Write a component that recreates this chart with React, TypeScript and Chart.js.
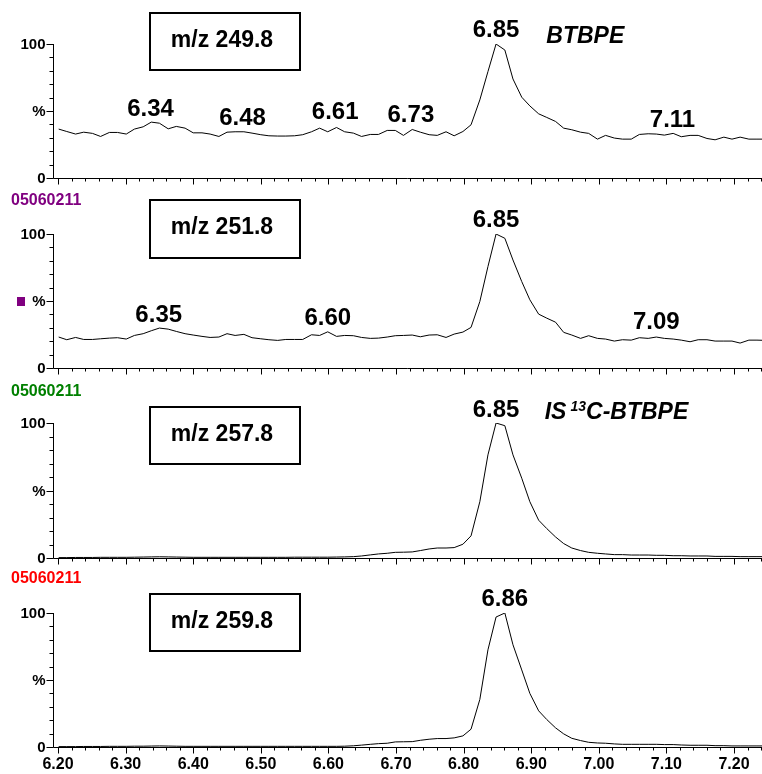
import React, { useEffect, useRef } from "react";
import { Chart, registerables } from "chart.js";

Chart.register(...registerables);

// ---------------- data ----------------
const times = [
  6.201, 6.213, 6.226, 6.238, 6.251, 6.263, 6.276, 6.288, 6.301, 6.313,
  6.326, 6.338, 6.350, 6.363, 6.375, 6.388, 6.400, 6.413, 6.425, 6.438,
  6.450, 6.462, 6.475, 6.487, 6.500, 6.512, 6.525, 6.537, 6.550, 6.562,
  6.575, 6.587, 6.599, 6.612, 6.624, 6.637, 6.649, 6.662, 6.674, 6.687,
  6.699, 6.711, 6.724, 6.736, 6.749, 6.761, 6.774, 6.786, 6.799, 6.811,
  6.824, 6.836, 6.848, 6.861, 6.873, 6.886, 6.898, 6.911, 6.923, 6.936,
  6.948, 6.960, 6.973, 6.985, 6.998, 7.010, 7.023, 7.035, 7.048, 7.060,
  7.073, 7.085, 7.097, 7.110, 7.122, 7.135, 7.147, 7.160, 7.172, 7.185,
  7.197, 7.209, 7.222, 7.234, 7.247,
];

const mz2498 = [
  36.5, 34.7, 32.8, 34.2, 33.3, 31.0, 34.0, 34.0, 32.8, 36.5,
  38.2, 41.7, 40.9, 36.7, 38.5, 37.2, 33.7, 33.7, 32.8, 31.0,
  34.2, 34.5, 34.5, 33.5, 32.3, 31.5, 31.3, 31.3, 31.5, 32.3,
  34.5, 37.2, 34.5, 37.7, 34.5, 33.5, 31.0, 32.5, 32.5, 35.5,
  35.5, 31.8, 36.2, 34.2, 32.3, 31.8, 34.5, 31.5, 34.7, 39.7,
  58.3, 79.4, 100, 95.5, 73.9, 60.3, 53.8, 47.9, 45.2, 42.2,
  37.2, 36.0, 34.2, 33.3, 29.0, 31.8, 29.8, 29.0, 29.0, 32.5,
  33.0, 32.8, 32.0, 33.3, 30.8, 31.8, 31.8, 29.5, 28.5, 30.5,
  29.0, 30.5, 29.0, 29.0, 29.0,
];

const mz2518 = [
  23.1, 21.1, 22.8, 21.3, 21.3, 21.8, 22.3, 22.6, 21.6, 24.3,
  25.6, 27.8, 29.8, 29.0, 27.3, 25.6, 24.6, 23.6, 22.8, 23.1,
  25.6, 24.3, 25.1, 22.6, 21.8, 21.1, 20.6, 21.3, 21.3, 21.3,
  24.8, 24.3, 27.0, 23.6, 24.3, 24.1, 22.8, 22.1, 22.3, 23.1,
  24.1, 24.3, 24.6, 23.3, 24.6, 24.8, 22.8, 25.3, 26.8, 30.3,
  49.6, 75.7, 100, 96.8, 80.6, 64.5, 50.9, 40.2, 37.2, 34.2,
  26.6, 24.6, 22.1, 24.1, 22.1, 21.6, 20.1, 21.1, 20.8, 22.6,
  22.1, 23.1, 22.1, 21.6, 20.8, 19.6, 21.1, 21.1, 20.1, 20.1,
  20.1, 18.6, 20.8, 20.8, 20.6,
];

const mz2578 = [
  0.3, 0.3, 0.4, 0.4, 0.4, 0.5, 0.5, 0.5, 0.5, 0.6,
  0.7, 0.8, 0.9, 0.8, 0.7, 0.6, 0.5, 0.5, 0.5, 0.5,
  0.5, 0.5, 0.5, 0.5, 0.5, 0.5, 0.5, 0.5, 0.6, 0.6,
  0.6, 0.6, 0.6, 0.7, 0.8, 1.0, 1.5, 2.3, 3.0, 3.5,
  4.2, 4.3, 4.5, 5.5, 6.7, 7.4, 7.4, 7.7, 10.2, 16.4,
  41.7, 76.4, 100, 98.0, 76.4, 59.1, 41.7, 28.0, 21.8, 15.6,
  10.7, 7.4, 5.5, 4.2, 3.5, 3.0, 2.5, 2.5, 2.2, 2.2,
  2.2, 2.0, 2.0, 1.7, 1.7, 1.5, 1.5, 1.5, 1.2, 1.2,
  1.2, 1.0, 1.0, 1.0, 1.0,
];

const mz2598 = [
  0.3, 0.3, 0.3, 0.4, 0.4, 0.4, 0.5, 0.5, 0.5, 0.6,
  0.6, 0.7, 0.8, 0.7, 0.6, 0.5, 0.5, 0.5, 0.5, 0.5,
  0.5, 0.5, 0.5, 0.5, 0.5, 0.5, 0.5, 0.5, 0.5, 0.5,
  0.5, 0.5, 0.5, 0.5, 0.6, 0.9, 1.4, 2.0, 2.5, 2.8,
  3.8, 3.9, 4.0, 5.0, 5.8, 6.3, 6.3, 6.8, 8.3, 13.3,
  35.5, 72.5, 97.0, 100, 76.3, 57.5, 40.0, 27.0, 20.5, 14.3,
  9.8, 6.5, 4.8, 3.5, 3.0, 2.8, 2.3, 2.0, 2.0, 2.0,
  2.0, 2.0, 1.8, 1.8, 1.5, 1.3, 1.3, 1.3, 1.0, 1.0,
  0.8, 0.8, 0.8, 0.8, 0.8,
];

const xTickLabels = ["6.20", "6.30", "6.40", "6.50", "6.60", "6.70", "6.80", "6.90", "7.00", "7.10", "7.20"];
const yTickLabels = ["0", "%", "100"];
const sampleId = "05060211";

type PeakLabel = { text: string; t: number; v: number };

const peaks2498: PeakLabel[] = [
  { text: "6.34", t: 6.337, v: 51.5 },
  { text: "6.48", t: 6.473, v: 44.8 },
  { text: "6.61", t: 6.61, v: 49.3 },
  { text: "6.73", t: 6.722, v: 47 },
  { text: "6.85", t: 6.848, v: 110.4 },
  { text: "7.11", t: 7.109, v: 43.3 },
];
const peaks2518: PeakLabel[] = [
  { text: "6.35", t: 6.349, v: 39.6 },
  { text: "6.60", t: 6.599, v: 37.3 },
  { text: "6.85", t: 6.848, v: 110.4 },
  { text: "7.09", t: 7.085, v: 34.3 },
];
const peaks2578: PeakLabel[] = [{ text: "6.85", t: 6.848, v: 109.6 }];
const peaks2598: PeakLabel[] = [{ text: "6.86", t: 6.861, v: 110.4 }];

// ---------------- layout ----------------
const X_MIN = 6.1926;
const X_MAX = 7.2414;
const FONT = '"Liberation Sans", Arial, Helvetica, sans-serif';

interface PanelCfg {
  values: number[];
  canvasTop: number;
  canvasHeight: number;
  areaTop: number;
  areaBottom: number;
  boxTop: number;
  boxBottom: number;
  boxText: string;
  peaks: PeakLabel[];
  compound?: "BTBPE" | "IS";
  showXLabels: boolean;
  idColor?: string;
  idY?: number;
  marker?: boolean;
}

const panels: PanelCfg[] = [
  {
    values: mz2498, canvasTop: 0, canvasHeight: 190, areaTop: 44, areaBottom: 178,
    boxTop: 13, boxBottom: 70, boxText: "m/z 249.8", peaks: peaks2498, compound: "BTBPE", showXLabels: false,
  },
  {
    values: mz2518, canvasTop: 190, canvasHeight: 190, areaTop: 234, areaBottom: 368,
    boxTop: 200, boxBottom: 258, boxText: "m/z 251.8", peaks: peaks2518, showXLabels: false,
    idColor: "#800080", idY: 200, marker: true,
  },
  {
    values: mz2578, canvasTop: 380, canvasHeight: 190, areaTop: 423, areaBottom: 558,
    boxTop: 407, boxBottom: 464, boxText: "m/z 257.8", peaks: peaks2578, compound: "IS", showXLabels: false,
    idColor: "#008000", idY: 391,
  },
  {
    values: mz2598, canvasTop: 566, canvasHeight: 208, areaTop: 613, areaBottom: 747,
    boxTop: 594, boxBottom: 651, boxText: "m/z 259.8", peaks: peaks2598, showXLabels: true,
    idColor: "#ff0000", idY: 578,
  },
];

function makeDecor(cfg: PanelCfg) {
  return {
    id: "decor",
    afterDraw(chart: any) {
      const { ctx, chartArea: a, scales } = chart;
      const xs = scales.x;
      const ys = scales.y;
      ctx.save();
      ctx.strokeStyle = "#000";
      ctx.fillStyle = "#000";
      ctx.lineWidth = 1;

      const left = Math.round(a.left) + 0.5;
      const bottom = Math.round(a.bottom) + 0.5;
      // axis lines
      ctx.beginPath();
      ctx.moveTo(left, Math.round(ys.getPixelForValue(100)));
      ctx.lineTo(left, bottom);
      ctx.lineTo(a.right, bottom);
      ctx.stroke();

      // y ticks
      ctx.beginPath();
      for (let v = 0; v <= 100; v += 10) {
        const py = Math.round(ys.getPixelForValue(v)) + 0.5;
        const len = v % 50 === 0 ? 7 : 4;
        ctx.moveTo(left - len, py);
        ctx.lineTo(left, py);
      }
      ctx.stroke();

      // y labels
      ctx.font = `bold 15px ${FONT}`;
      ctx.textAlign = "right";
      ctx.textBaseline = "middle";
      yTickLabels.forEach((lab, i) => {
        const py = ys.getPixelForValue(i * 50);
        ctx.fillText(lab, left - 8, py + 1);
      });

      // x ticks
      ctx.beginPath();
      for (let i = 0; i <= 55; i++) {
        const t = 6.2 + i * 0.02;
        const px = Math.round(xs.getPixelForValue(t)) + 0.5;
        if (px > a.right) break;
        const len = i % 5 === 0 ? 6 : 3;
        ctx.moveTo(px, bottom);
        ctx.lineTo(px, bottom + len);
      }
      ctx.stroke();

      if (cfg.showXLabels) {
        ctx.font = `bold 16px ${FONT}`;
        ctx.textAlign = "center";
        ctx.textBaseline = "middle";
        xTickLabels.forEach((lab) => {
          const px = xs.getPixelForValue(parseFloat(lab));
          ctx.fillText(lab, px, a.bottom + 18);
        });
      }

      // peak labels
      ctx.font = `bold 24px ${FONT}`;
      ctx.textAlign = "center";
      ctx.textBaseline = "middle";
      cfg.peaks.forEach((p) => {
        ctx.fillText(p.text, xs.getPixelForValue(p.t), ys.getPixelForValue(p.v));
      });

      // compound names
      if (cfg.compound === "BTBPE") {
        ctx.font = `italic bold 23px ${FONT}`;
        ctx.textAlign = "center";
        ctx.fillText("BTBPE", xs.getPixelForValue(6.98), ys.getPixelForValue(105.2));
      } else if (cfg.compound === "IS") {
        let px = xs.getPixelForValue(6.92);
        const py = ys.getPixelForValue(107.4);
        ctx.textAlign = "left";
        ctx.font = `italic bold 23px ${FONT}`;
        ctx.fillText("IS", px, py);
        px += ctx.measureText("IS").width + 4;
        ctx.font = `italic bold 14px ${FONT}`;
        ctx.fillText("13", px, py - 6);
        px += ctx.measureText("13").width;
        ctx.font = `italic bold 23px ${FONT}`;
        ctx.fillText("C-BTBPE", px, py);
      }

      // m/z box
      const bt = cfg.boxTop - cfg.canvasTop;
      const bh = cfg.boxBottom - cfg.boxTop;
      ctx.lineWidth = 2;
      ctx.strokeRect(150, bt, 150, bh);
      ctx.font = `bold 23px ${FONT}`;
      ctx.textAlign = "center";
      ctx.textBaseline = "middle";
      ctx.fillText(cfg.boxText, 222, bt + bh / 2 - 1);

      // sample id
      if (cfg.idColor && cfg.idY !== undefined) {
        ctx.font = `bold 16px ${FONT}`;
        ctx.textAlign = "left";
        ctx.fillStyle = cfg.idColor;
        ctx.fillText(sampleId, 11, cfg.idY - cfg.canvasTop + 1);
      }
      if (cfg.marker) {
        ctx.fillStyle = "#800080";
        const my = ys.getPixelForValue(50);
        ctx.fillRect(17, Math.round(my) - 4, 8, 9);
      }
      ctx.restore();
    },
  };
}

function Panel({ cfg }: { cfg: PanelCfg }) {
  const ref = useRef<HTMLCanvasElement>(null);
  useEffect(() => {
    if (!ref.current) return;
    const chart = new Chart(ref.current, {
      type: "line",
      data: {
        datasets: [
          {
            data: times.map((t, i) => ({ x: t, y: cfg.values[i] })),
            borderColor: "#000",
            borderWidth: 1,
            pointRadius: 0,
            tension: 0,
            fill: false,
          },
        ],
      },
      options: {
        responsive: false,
        animation: false,
        devicePixelRatio: 1,
        events: [],
        layout: {
          padding: {
            left: 53,
            right: 0,
            top: cfg.areaTop - cfg.canvasTop,
            bottom: cfg.canvasTop + cfg.canvasHeight - cfg.areaBottom,
          },
        },
        plugins: { legend: { display: false }, tooltip: { enabled: false } },
        scales: {
          x: { type: "linear", min: X_MIN, max: X_MAX, display: false },
          y: { min: 0, max: 100, display: false },
        },
      },
      plugins: [makeDecor(cfg)],
    } as any);
    return () => chart.destroy();
  }, [cfg]);
  return (
    <canvas
      ref={ref}
      width={762}
      height={cfg.canvasHeight}
      style={{ position: "absolute", left: 0, top: cfg.canvasTop, width: 762, height: cfg.canvasHeight }}
    />
  );
}

export default function App() {
  return (
    <div style={{ position: "absolute", left: 0, top: 0, width: 762, height: 774, background: "#fff" }}>
      {panels.map((p, i) => (
        <Panel key={i} cfg={p} />
      ))}
    </div>
  );
}
